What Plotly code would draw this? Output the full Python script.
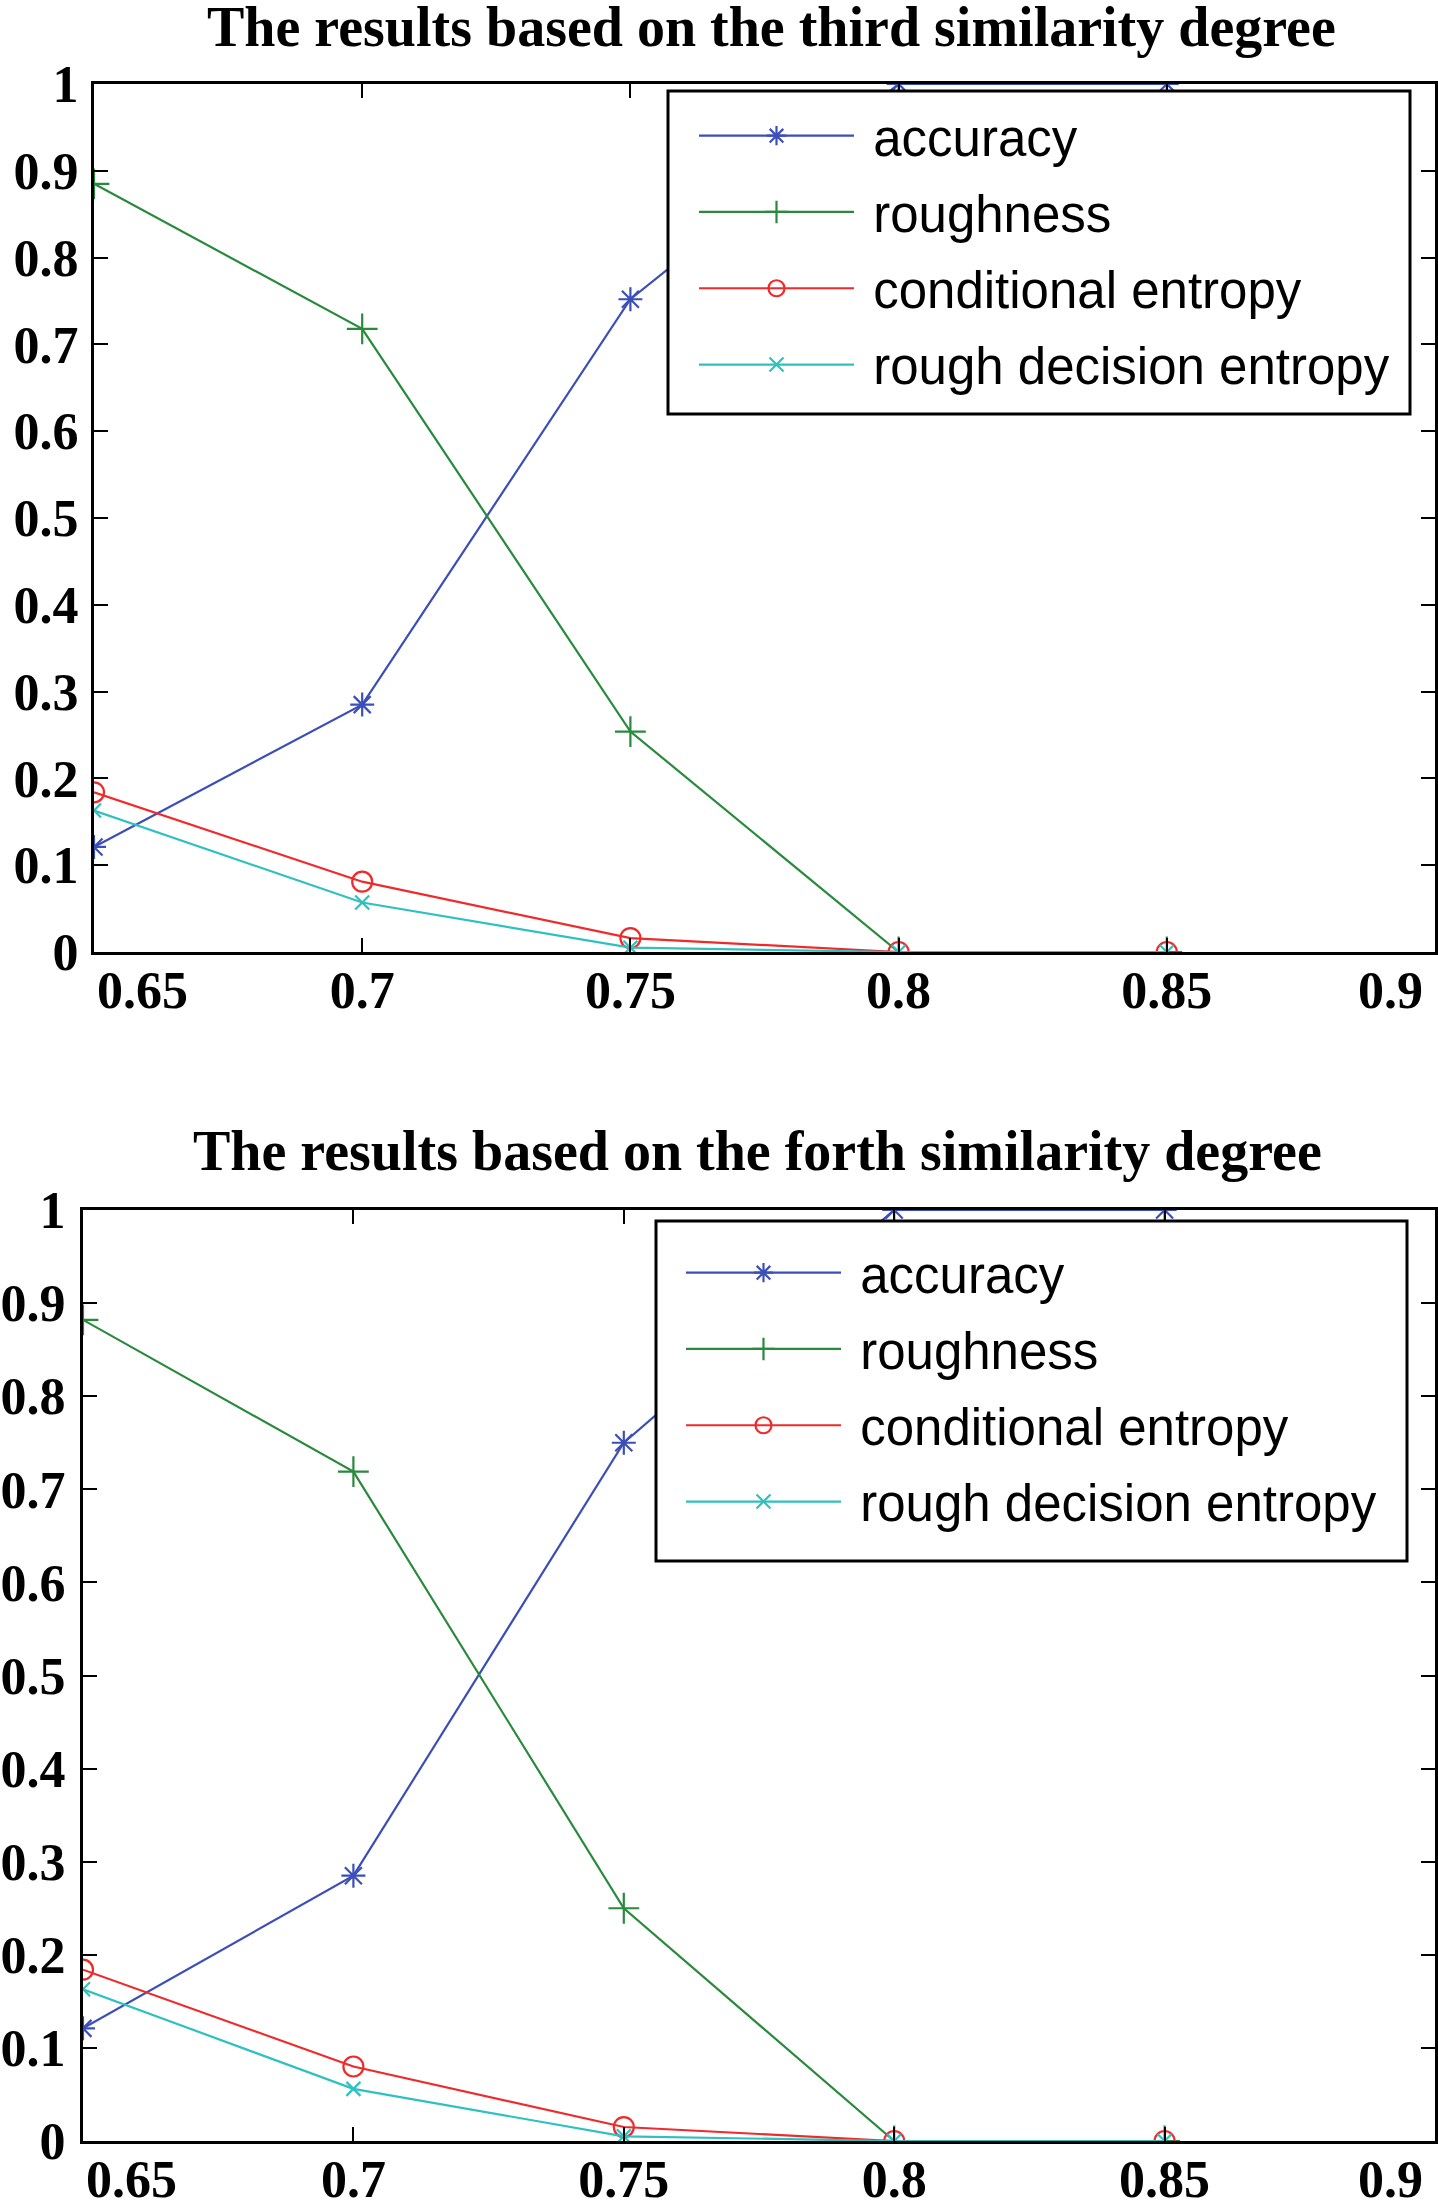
import plotly.graph_objects as go

x_vals = [0.65, 0.70, 0.75, 0.80, 0.85]

acc_3 = [0.121, 0.285, 0.752, 1.0, 1.0]
rough_3 = [0.885, 0.718, 0.254, 0.0, 0.0]
cond_3 = [0.184, 0.081, 0.016, 0.0, 0.0]
rde_3 = [0.163, 0.057, 0.005, 0.0, 0.0]

acc_4 = [0.121, 0.285, 0.750, 1.0, 1.0]
rough_4 = [0.882, 0.719, 0.250, 0.0, 0.0]
cond_4 = [0.184, 0.080, 0.015, 0.0, 0.0]
rde_4 = [0.163, 0.056, 0.005, 0.0, 0.0]

names = ["accuracy", "roughness", "conditional entropy", "rough decision entropy"]
colors = ["#3c4eb8", "#2a8a3c", "#f02a2a", "#2fc0c0"]
symbols = ["asterisk-open", "cross-thin-open", "circle-open", "x-thin-open"]
msizes = [20, 22, 20, 14]

xticks = [0.65, 0.7, 0.75, 0.8, 0.85, 0.9]
xtick_text = ["", "0.7", "0.75", "0.8", "0.85", ""]
x_end_labels = [(0.65, "0.65", "left", 1), (0.9, "0.9", "right", -10)]
yticks = [0, 0.1, 0.2, 0.3, 0.4, 0.5, 0.6, 0.7, 0.8, 0.9, 1]
ytick_text = ["0", "0.1", "0.2", "0.3", "0.4", "0.5", "0.6", "0.7", "0.8", "0.9", "1"]

titles = ["The results based on the third similarity degree",
          "The results based on the forth similarity degree"]

W, H = 1438, 2202
fig = go.Figure()

sets = [(acc_3, rough_3, cond_3, rde_3), (acc_4, rough_4, cond_4, rde_4)]
for p, series in enumerate(sets):
    xa = "x" if p == 0 else "x2"
    ya = "y" if p == 0 else "y2"
    lg = "legend" if p == 0 else "legend2"
    for i, s in enumerate(series):
        fig.add_trace(go.Scatter(
            x=x_vals, y=s, mode="lines+markers", name="\u00a0" + names[i],
            xaxis=xa, yaxis=ya, legend=lg, legendgroup=f"p{p}s{i}",
            line=dict(color=colors[i], width=2.2),
            marker=dict(symbol=symbols[i], size=msizes[i], color=colors[i],
                        line=dict(color=colors[i], width=2.2)),
        ))

tickfont = dict(family="Liberation Serif", size=52, color="black", weight="bold")
axis_common = dict(showline=True, linewidth=3, linecolor="black", mirror="ticks",
                   ticks="inside", ticklen=14, tickwidth=2, tickcolor="black",
                   showgrid=False, zeroline=False, tickfont=tickfont, automargin=False)

xr = [0.65, 0.9]
fig.update_layout(
    xaxis=dict(domain=[94 / W, 1435 / W], range=xr, tickvals=xticks,
               ticktext=xtick_text, anchor="y", ticklabelstandoff=-9, **axis_common),
    yaxis=dict(domain=[1 - 952 / H, 1 - 84 / H], range=[0, 1], tickvals=yticks,
               ticktext=ytick_text, anchor="x", ticklabelstandoff=2, **axis_common),
    xaxis2=dict(domain=[83 / W, 1435 / W], range=xr, tickvals=xticks,
                ticktext=xtick_text, anchor="y2", ticklabelstandoff=-9, **axis_common),
    yaxis2=dict(domain=[1 - 2141 / H, 1 - 1210 / H], range=[0, 1], tickvals=yticks,
                ticktext=ytick_text, anchor="x2", ticklabelstandoff=4, **axis_common),
)

# end tick labels, nudged inward like the original
for xref, yref in [("x", "y domain"), ("x2", "y2 domain")]:
    for xv, txt, anc, shift in x_end_labels:
        fig.add_annotation(text=txt, x=xv, y=0, xref=xref, yref=yref, showarrow=False,
                           xanchor=anc, yanchor="top", xshift=shift, yshift=-8,
                           font=tickfont)

legend_common = dict(
    bgcolor="rgba(0,0,0,0)", borderwidth=0,
    font=dict(family="Liberation Sans", size=51, color="black"),
    xanchor="left", yanchor="top", itemwidth=155, tracegroupgap=7,
)
fig.update_layout(
    legend=dict(x=694 / W, y=1 - 96 / H, **legend_common),
    legend2=dict(x=681 / W, y=1 - 1233 / H, **legend_common),
)

# legend frames
box_line = dict(color="black", width=3)
fig.add_shape(type="rect", xref="paper", yref="paper", x0=668 / W, x1=1410 / W,
              y0=1 - 414 / H, y1=1 - 91 / H, line=box_line, fillcolor="white", layer="above")
fig.add_shape(type="rect", xref="paper", yref="paper", x0=656 / W, x1=1407 / W,
              y0=1 - 1561 / H, y1=1 - 1221 / H, line=box_line, fillcolor="white", layer="above")

titlefont = dict(family="Liberation Serif", size=56, color="black", weight="bold")
fig.add_annotation(text=titles[0], x=771 / W, y=1, xref="paper", yref="paper",
                   showarrow=False, font=titlefont, xanchor="center", yanchor="top", yshift=6)
fig.add_annotation(text=titles[1], x=757 / W, y=1 - 1118 / H, xref="paper", yref="paper",
                   showarrow=False, font=titlefont, xanchor="center", yanchor="top")

fig.update_layout(
    width=W, height=H, margin=dict(l=0, r=0, t=0, b=0),
    paper_bgcolor="white", plot_bgcolor="white", showlegend=True,
)

fig.write_html("out.html")
